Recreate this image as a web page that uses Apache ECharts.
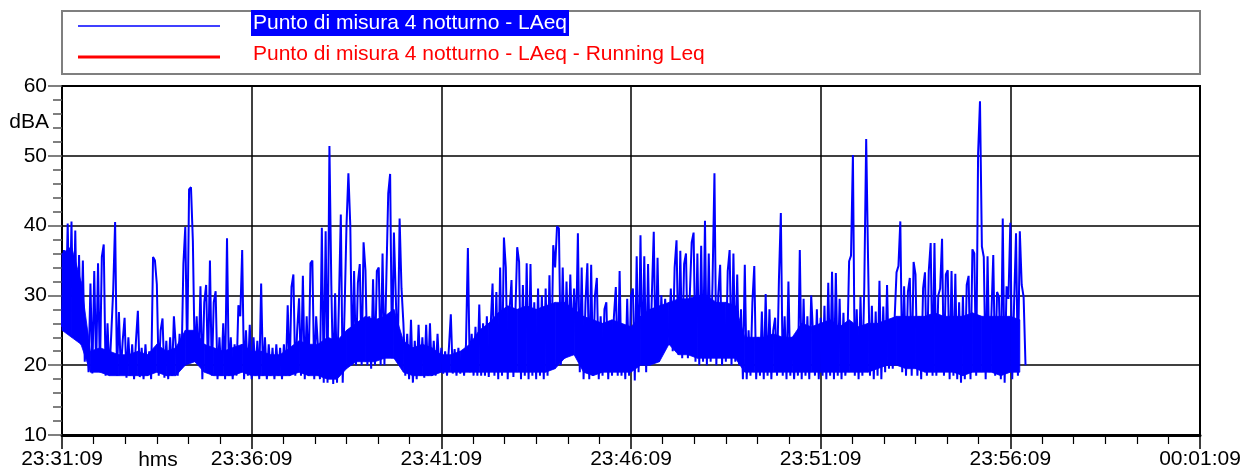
<!DOCTYPE html>
<html>
<head>
<meta charset="utf-8">
<script src="https://cdn.jsdelivr.net/npm/echarts@6/dist/echarts.min.js"></script>
<style>
  html, body { margin: 0; padding: 0; background: #fff; }
  #chart { width: 1244px; height: 470px; }
</style>
</head>
<body>
<div id="chart"></div>
<script>
// ---- Data ----
const seriesNames = ['Punto di misura 4 notturno - LAeq', 'Punto di misura 4 notturno - LAeq - Running Leq'];
const startTimeSec = 23 * 3600 + 31 * 60 + 9;   // 23:31:09
const sampleStepSec = 3;                         // LAeq: one value every 3 s
const bandStepSec = 15;                          // dense band: one reading every 15 s
const xTickSeconds = [0, 300, 600, 900, 1200, 1500, 1800];
const yTicks = [10, 20, 30, 40, 50, 60];
const axisUnitY = 'dBA';
const axisUnitX = 'hms';

// LAeq values, dBA (sample k at startTime + k*3 s)
const laeq = [
  25.5, 36.5, 27, 40.3, 26, 40.6, 24, 39.3, 23.5, 35.8, 23, 35, 20.5, 25, 19, 31.7, 18.8, 33.5, 19.5, 34.6,
  19, 35.5, 37.3, 18.5, 26, 18.8, 24.6, 30.8, 40.5, 18.5, 27.6, 19, 23.5, 26.8, 18.2, 24, 18.5, 23, 18, 23.5,
  27.8, 18.3, 22.5, 18, 23, 18.5, 22, 18, 35.5, 35, 31.6, 18.5, 25, 26.7, 18.2, 23.5, 18, 24, 18.5, 27,
  27, 18.5, 24.5, 20, 34.5, 39.8, 21, 45.2, 45.5, 37.8, 20.5, 27, 20, 31.3, 18, 29, 31.5, 19, 35, 18.5,
  29, 30.6, 18, 24, 18.5, 26, 18, 38.2, 18.5, 24, 18, 23, 18.5, 28.6, 27, 36.5, 18, 25, 18.5, 25.8,
  18, 24, 18.5, 23.5, 18, 31.7, 18.5, 24, 18, 23, 18.5, 22.5, 18, 23, 18.5, 22.5, 18, 23, 18.5, 28.6,
  18.5, 31.2, 33, 18.5, 25, 29.6, 18.5, 32.8, 18, 27, 18.5, 34.6, 35, 18, 27, 27.2, 18, 39.7, 17.5, 39.2,
  17.5, 51.4, 31.5, 17.3, 30.3, 17.5, 29, 41.6, 17.5, 28, 40, 47.5, 40, 20, 33.5, 20, 31.8, 34.5, 20, 37.6,
  33.6, 20, 27, 19.5, 32.3, 20, 33.5, 34, 20, 36, 20, 32.3, 44.6, 47.4, 21, 39, 38.9, 20.5, 41, 31,
  26, 18.5, 24.5, 18, 26.5, 17.5, 23.5, 18, 25.8, 18.5, 24, 18.2, 25.8, 18.5, 26, 18.5, 23.5, 18.5, 24.5, 19,
  22.5, 18.8, 22, 18.5, 22.5, 27.3, 18.8, 22.3, 18.5, 22.5, 18.8, 22, 18.5, 23, 36.8, 19, 24.5, 18.5, 25.5, 18.5,
  28.7, 18.5, 26, 18.5, 27, 18.3, 25.5, 31.7, 18.5, 30.5, 18, 34, 18.5, 38.3, 34, 18, 28, 32.2, 18.3, 27,
  36.9, 34.8, 18, 31.5, 18.5, 34.6, 18, 34.5, 18.5, 29, 18, 31, 18.5, 30, 18, 31, 18.5, 32.9, 20, 37.2,
  34, 39.9, 39.6, 20, 34, 21, 32, 22.5, 33, 23, 31, 23.5, 38.9, 19, 34, 18, 29, 34.6, 18, 34.4,
  18.5, 30, 32.5, 18, 27, 18.5, 28, 29, 18, 26, 18.5, 27, 31.2, 18.5, 33.5, 18.5, 25, 18, 29.5, 18.5,
  30, 31, 17.8, 35.6, 19, 38.6, 20, 35.6, 19, 34.5, 20, 30, 39.1, 20.5, 35.4, 21, 30, 23.5, 29.5, 25,
  24, 31, 22, 34, 37.9, 21.5, 36.4, 21, 34.5, 36, 21, 30, 37.6, 39, 20.5, 36, 20, 37.1, 20.5, 40.7,
  20, 36, 20.5, 32, 47.5, 20, 30, 34.4, 20, 28, 20.5, 33.5, 36.5, 20, 36, 20.5, 33, 20, 28, 18,
  34.4, 18, 25, 18.5, 29, 34.2, 18, 24, 18.5, 27.7, 18, 30.2, 18.5, 28, 18, 25, 26.8, 18.5, 32.3, 41.8,
  18.5, 27, 18, 32, 18.5, 24, 18, 24.5, 18.5, 36.5, 18, 29.5, 18.5, 27, 18, 30, 30, 18.5, 28, 18,
  26.8, 18.5, 28.5, 18, 31.8, 18.5, 33.4, 18, 33.2, 18.5, 29.5, 18, 27.5, 18.5, 22, 34.9, 35.7, 50.1, 18.5, 28,
  18, 29.8, 18.5, 31.3, 52.4, 35, 18.5, 28.5, 18, 27.7, 18.5, 32.1, 18, 28.4, 19, 31.5, 19.5, 25, 19.5, 26.7,
  33.3, 34.2, 40.6, 19, 31.3, 18.5, 30.5, 32.5, 18.5, 34.8, 33, 18.5, 27, 18, 31, 33.3, 18.5, 33.5, 37.5, 18.5,
  37.5, 18.5, 30, 31, 38.1, 18.5, 33, 33.6, 18, 33.5, 18.5, 33.1, 18, 29, 17.5, 30, 18, 31.5, 32.8, 18,
  36.6, 36, 18.5, 50.3, 57.8, 37, 35.5, 18, 35.6, 19, 27, 35.8, 18.5, 30.5, 29.8, 18, 41, 17.5, 31.3, 29.5,
  40.4, 18, 29, 38.9, 18.5, 39.2, 31.5, 29.8, 20
];

// Solid dense-noise band of the LAeq trace: lower / upper edge (dBA), reading k at startTime + k*15 s
const bandLow = [
  25, 24, 23, 19, 19, 18.5, 18.5, 18.5, 18.5, 18.5,
  19, 18.5, 18.5, 20, 20.5, 19, 18.5, 18.5, 18.5, 19,
  18.5, 18.5, 18.5, 18.5, 18.5, 19, 18.5, 18.5, 18, 18,
  19.5, 20.5, 20.5, 20.5, 21, 21, 19, 18.5, 18.5, 18.5,
  19, 19, 19, 19, 19, 19, 19, 19, 19, 19,
  19, 19, 19.5, 21, 21.5, 19, 18.5, 19, 19, 19,
  19, 20, 20, 20.5, 23, 21.5, 21.5, 21, 21, 21,
  21, 21, 19, 19, 19, 19, 19, 19, 19, 19,
  19, 19, 19, 19, 19, 19, 19.5, 20, 20, 19.5,
  19.5, 19, 19, 19, 19, 18.5, 19, 19, 19, 18.5,
  19, 19
];
const bandHigh = [
  36, 37, 32, 22, 22.5, 22, 21.5, 21.5, 22, 21.5,
  23, 22, 22.5, 25, 25, 23, 22.5, 22, 22.5, 23,
  22, 22, 21.5, 21.5, 22.5, 23.5, 23, 23, 24, 23.5,
  25, 26, 27, 26.5, 27, 28, 23.5, 22.5, 23, 22.5,
  21.5, 21.5, 22, 23, 25, 26, 27.5, 28.5, 28, 28.5,
  28, 28.5, 29, 29, 28, 27, 26.5, 26, 26.5, 26,
  25.5, 27, 28, 28.5, 29, 29.5, 29.5, 30, 30, 29,
  29, 28.5, 24, 24, 24, 24.5, 24, 24, 26, 25.5,
  26, 26.5, 25.5, 26.5, 25.5, 26, 26, 26.5, 27, 27,
  27, 27, 27.5, 27, 27, 27, 27.5, 27, 27, 27,
  27, 26.5
];

// Running Leq: not drawn in the reference plot (legend entry only)
const runningLeq = [];

// ---- Chart ----
const FONT = 'Liberation Sans, Arial, sans-serif';
function fmtTime(sec) {
  let t = (startTimeSec + Math.round(sec)) % 86400;
  const h = Math.floor(t / 3600), m = Math.floor((t % 3600) / 60), s = t % 60;
  const p = n => (n < 10 ? '0' : '') + n;
  return p(h) + ':' + p(m) + ':' + p(s);
}
const laeqData = laeq.map((v, k) => [k * sampleStepSec, v]);
// band segments: [t0, t1, low0, high0, low1, high1]
const bandSegments = [];
for (let k = 0; k < bandLow.length - 1; k++) {
  bandSegments.push([k * bandStepSec, (k + 1) * bandStepSec, bandLow[k], bandHigh[k], bandLow[k + 1], bandHigh[k + 1]]);
}

const chart = echarts.init(document.getElementById('chart'), null, { renderer: 'canvas' });
chart.setOption({
  animation: false,
  backgroundColor: '#ffffff',
  grid: { left: 62, right: 44, top: 86, bottom: 35, show: true, borderColor: '#000', borderWidth: 2, containLabel: false },
  xAxis: {
    type: 'value',
    min: xTickSeconds[0], max: xTickSeconds[xTickSeconds.length - 1], interval: 300,
    axisLine: { show: true, onZero: false, lineStyle: { color: '#000', width: 3 } },
    axisTick: { show: true, length: 14, lineStyle: { color: '#000', width: 1.5 } },
    minorTick: { show: true, splitNumber: 6, length: 9, lineStyle: { color: '#000', width: 1.2 } },
    splitLine: { show: true, lineStyle: { color: '#000', width: 1.5 } },
    axisLabel: { show: true, showMinLabel: true, showMaxLabel: true, margin: 14, color: '#000', fontSize: 21, fontFamily: FONT, formatter: v => fmtTime(v) }
  },
  yAxis: {
    type: 'value',
    min: yTicks[0], max: yTicks[yTicks.length - 1], interval: 10,
    axisLine: { show: true, lineStyle: { color: '#000', width: 2 } },
    axisTick: { show: true, length: 14, lineStyle: { color: '#555', width: 1.5 } },
    minorTick: { show: true, splitNumber: 5, length: 9, lineStyle: { color: '#555', width: 1.5 } },
    splitLine: { show: true, lineStyle: { color: '#000', width: 1.5 } },
    axisLabel: { margin: 15, color: '#000', fontSize: 21, fontFamily: FONT }
  },
  series: [
    {
      name: 'LAeq dense band', type: 'custom', data: bandSegments, silent: true, z: 2,
      encode: { x: [0, 1], y: [2, 3, 4, 5] },
      renderItem: function (params, api) {
        const p1 = api.coord([api.value(0), api.value(2)]);
        const p2 = api.coord([api.value(1), api.value(4)]);
        const p3 = api.coord([api.value(1), api.value(5)]);
        const p4 = api.coord([api.value(0), api.value(3)]);
        return {
          type: 'polygon',
          shape: { points: [p1, p2, p3, p4] },
          style: { fill: '#0000ff', stroke: '#0000ff', lineWidth: 0.8 }
        };
      }
    },
    {
      name: seriesNames[0], type: 'line', data: laeqData, showSymbol: false, symbol: 'none',
      sampling: 'none', lineStyle: { color: '#0000ff', width: 2 }, itemStyle: { color: '#0000ff' }, z: 3
    },
    {
      name: seriesNames[1], type: 'line', data: runningLeq, showSymbol: false, symbol: 'none',
      lineStyle: { color: '#ff0000', width: 3 }, itemStyle: { color: '#ff0000' }
    }
  ],
  graphic: [
    { type: 'rect', shape: { x: 62, y: 11, width: 1138, height: 63 }, style: { fill: '#fff', stroke: '#7f7f7f', lineWidth: 2 }, z: 1 },
    { type: 'line', shape: { x1: 78, y1: 26, x2: 220, y2: 26 }, style: { stroke: '#0000ff', lineWidth: 1.3 }, z: 2 },
    { type: 'line', shape: { x1: 78, y1: 57, x2: 220, y2: 57 }, style: { stroke: '#ff0000', lineWidth: 3 }, z: 2 },
    { type: 'rect', shape: { x: 251, y: 10, width: 318, height: 26 }, style: { fill: '#0000ff' }, z: 2 },
    { type: 'text', x: 253, y: 23, style: { text: seriesNames[0], fill: '#fff', font: '21px ' + FONT, verticalAlign: 'middle', align: 'left' }, z: 3 },
    { type: 'text', x: 253, y: 54, style: { text: seriesNames[1], fill: '#ff0000', font: '21px ' + FONT, verticalAlign: 'middle', align: 'left' }, z: 3 },
    { type: 'text', x: 49, y: 122, style: { text: axisUnitY, fill: '#000', font: '21px ' + FONT, verticalAlign: 'middle', align: 'right' }, z: 3 },
    { type: 'text', x: 158, y: 460, style: { text: axisUnitX, fill: '#000', font: '21px ' + FONT, verticalAlign: 'middle', align: 'center' }, z: 3 }
  ]
});
</script>
</body>
</html>
